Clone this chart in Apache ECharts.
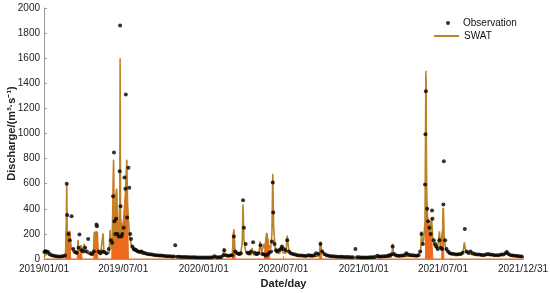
<!DOCTYPE html>
<html>
<head>
<meta charset="utf-8">
<script src="https://cdn.jsdelivr.net/npm/echarts@6/dist/echarts.min.js"></script>
<style>
  html, body { margin: 0; padding: 0; background: #fff; }
  #chart { width: 550px; height: 293px; }
</style>
</head>
<body>
<div id="chart"></div>
<script>
// SWAT simulated discharge, turning points of the daily curve [date, m3/s]
const swatPoints = [
  ["2019-01-01", 15], ["2019-01-04", 30], ["2019-01-07", 42], ["2019-01-11", 38], ["2019-01-16", 25], ["2019-01-25", 18],
  ["2019-02-10", 15], ["2019-02-19", 20], ["2019-02-21", 300], ["2019-02-22", 600], ["2019-02-23", 250], ["2019-02-25", 150],
  ["2019-02-27", 210], ["2019-03-01", 180], ["2019-03-04", 100], ["2019-03-08", 60], ["2019-03-12", 45], ["2019-03-17", 40],
  ["2019-03-19", 70], ["2019-03-20", 150], ["2019-03-22", 60], ["2019-03-26", 50], ["2019-03-27", 110], ["2019-03-29", 50],
  ["2019-04-02", 60], ["2019-04-03", 120], ["2019-04-05", 60], ["2019-04-10", 45], ["2019-04-16", 35], ["2019-04-22", 30],
  ["2019-04-24", 60], ["2019-04-26", 210], ["2019-04-30", 200], ["2019-05-03", 215], ["2019-05-05", 50], ["2019-05-10", 35],
  ["2019-05-14", 40], ["2019-05-16", 205], ["2019-05-18", 50], ["2019-05-24", 35], ["2019-05-30", 50], ["2019-06-01", 230],
  ["2019-06-03", 100], ["2019-06-06", 80], ["2019-06-08", 400], ["2019-06-09", 790], ["2019-06-10", 300], ["2019-06-12", 180],
  ["2019-06-15", 300], ["2019-06-16", 560], ["2019-06-18", 200], ["2019-06-20", 150], ["2019-06-23", 250], ["2019-06-24", 1600],
  ["2019-06-25", 350], ["2019-06-27", 180], ["2019-06-30", 170], ["2019-07-03", 200], ["2019-07-06", 350], ["2019-07-08", 600],
  ["2019-07-09", 790], ["2019-07-11", 450], ["2019-07-13", 300], ["2019-07-16", 180], ["2019-07-20", 100], ["2019-07-25", 70],
  ["2019-08-01", 55], ["2019-08-15", 40], ["2019-09-01", 30], ["2019-09-20", 25], ["2019-10-10", 20], ["2019-10-28", 22],
  ["2019-11-10", 16], ["2019-12-01", 13], ["2019-12-20", 11],
  ["2020-01-10", 10], ["2020-01-24", 12], ["2020-01-26", 18], ["2020-01-28", 12], ["2020-02-12", 12], ["2020-02-15", 40],
  ["2020-02-16", 88], ["2020-02-18", 35], ["2020-02-24", 20], ["2020-03-06", 22], ["2020-03-08", 120], ["2020-03-10", 234],
  ["2020-03-12", 80], ["2020-03-16", 40], ["2020-03-25", 30], ["2020-03-29", 120], ["2020-03-31", 434], ["2020-04-02", 150],
  ["2020-04-06", 60], ["2020-04-12", 35], ["2020-04-19", 35], ["2020-04-21", 88], ["2020-04-24", 35], ["2020-05-04", 30],
  ["2020-05-07", 60], ["2020-05-09", 141], ["2020-05-12", 50], ["2020-05-16", 60], ["2020-05-18", 120], ["2020-05-21", 90],
  ["2020-05-24", 208], ["2020-05-27", 120], ["2020-06-02", 80], ["2020-06-05", 200], ["2020-06-07", 680], ["2020-06-09", 250],
  ["2020-06-12", 100], ["2020-06-17", 50], ["2020-06-23", 45], ["2020-06-27", 100], ["2020-06-30", 50], ["2020-07-07", 45],
  ["2020-07-10", 186], ["2020-07-14", 60], ["2020-07-22", 35], ["2020-08-05", 25], ["2020-08-30", 20], ["2020-09-02", 30],
  ["2020-09-06", 20], ["2020-09-20", 20], ["2020-09-22", 60], ["2020-09-24", 141], ["2020-09-27", 60], ["2020-10-05", 30],
  ["2020-10-25", 18], ["2020-11-20", 14], ["2020-12-15", 12],
  ["2021-01-10", 11], ["2021-01-28", 12], ["2021-02-01", 18], ["2021-02-05", 12], ["2021-03-05", 15], ["2021-03-07", 60],
  ["2021-03-08", 122], ["2021-03-10", 40], ["2021-03-16", 20], ["2021-04-05", 20], ["2021-04-08", 32], ["2021-04-12", 20],
  ["2021-05-05", 22], ["2021-05-11", 60], ["2021-05-13", 220], ["2021-05-15", 120], ["2021-05-18", 150], ["2021-05-21", 300],
  ["2021-05-22", 900], ["2021-05-23", 1500], ["2021-05-25", 400], ["2021-05-28", 250], ["2021-06-01", 200], ["2021-06-05", 330],
  ["2021-06-08", 150], ["2021-06-12", 100], ["2021-06-18", 80], ["2021-06-21", 150], ["2021-06-23", 220], ["2021-06-25", 90],
  ["2021-06-29", 80], ["2021-07-01", 250], ["2021-07-02", 408], ["2021-07-04", 150], ["2021-07-08", 70], ["2021-07-15", 45],
  ["2021-08-01", 35], ["2021-08-14", 35], ["2021-08-17", 80], ["2021-08-19", 133], ["2021-08-22", 60], ["2021-08-28", 40],
  ["2021-09-15", 30], ["2021-09-25", 35], ["2021-10-15", 30], ["2021-11-05", 28], ["2021-11-20", 35], ["2021-11-24", 60],
  ["2021-11-28", 35], ["2021-12-10", 25], ["2021-12-31", 18]
];

// orange fill under SWAT during the flashy periods [date, m3/s]
const bandPoints = [
  ["2019-01-01", 0], ["2019-02-19", 0], ["2019-02-20", 220], ["2019-03-02", 220], ["2019-03-03", 0], ["2019-03-18", 0],
  ["2019-03-20", 150], ["2019-03-22", 0], ["2019-03-27", 110], ["2019-03-29", 0], ["2019-04-25", 0], ["2019-04-26", 215],
  ["2019-05-03", 215], ["2019-05-04", 0], ["2019-06-05", 0], ["2019-06-06", 300], ["2019-06-09", 790], ["2019-06-11", 200],
  ["2019-06-13", 500], ["2019-06-16", 560], ["2019-06-18", 300], ["2019-06-20", 250], ["2019-06-22", 400], ["2019-06-28", 250],
  ["2019-07-01", 300], ["2019-07-05", 500], ["2019-07-09", 790], ["2019-07-11", 400], ["2019-07-13", 0], ["2020-03-07", 0],
  ["2020-03-08", 200], ["2020-03-10", 234], ["2020-03-12", 150], ["2020-03-13", 0], ["2020-05-19", 0], ["2020-05-20", 120],
  ["2020-05-24", 208], ["2020-05-28", 150], ["2020-05-31", 0], ["2020-09-22", 0], ["2020-09-24", 120], ["2020-09-27", 0],
  ["2021-05-22", 0], ["2021-05-23", 1450], ["2021-05-25", 500], ["2021-05-29", 250], ["2021-06-03", 300], ["2021-06-08", 0],
  ["2021-06-28", 0], ["2021-07-01", 400], ["2021-07-03", 0], ["2021-12-31", 0]
];

// observed discharge [date, m3/s]
const obsPoints = [
  ["2019-01-02", 55], ["2019-01-04", 62], ["2019-01-07", 60], ["2019-01-10", 55], ["2019-01-14", 40], ["2019-01-19", 30],
  ["2019-01-24", 25], ["2019-01-29", 22], ["2019-02-03", 20], ["2019-02-08", 20], ["2019-02-13", 22], ["2019-02-18", 28],
  ["2019-02-22", 600], ["2019-02-23", 350], ["2019-02-26", 200], ["2019-03-01", 150], ["2019-03-05", 340], ["2019-03-09", 80],
  ["2019-03-13", 55], ["2019-03-17", 50], ["2019-03-21", 90], ["2019-03-23", 195], ["2019-03-28", 70], ["2019-04-01", 60],
  ["2019-04-05", 90], ["2019-04-09", 60], ["2019-04-12", 160], ["2019-04-17", 45], ["2019-04-21", 40], ["2019-04-25", 60],
  ["2019-05-01", 275], ["2019-05-02", 260], ["2019-05-06", 60], ["2019-05-10", 45], ["2019-05-14", 60], ["2019-05-19", 55],
  ["2019-05-24", 45], ["2019-05-29", 80], ["2019-06-03", 150], ["2019-06-06", 130], ["2019-06-08", 500], ["2019-06-10", 848],
  ["2019-06-11", 300], ["2019-06-13", 200], ["2019-06-15", 320], ["2019-06-18", 200], ["2019-06-21", 180], ["2019-06-23", 700],
  ["2019-06-24", 1860], ["2019-06-25", 420], ["2019-06-27", 180], ["2019-06-29", 200], ["2019-07-02", 250], ["2019-07-04", 650],
  ["2019-07-06", 560], ["2019-07-07", 1310], ["2019-07-10", 330], ["2019-07-13", 728], ["2019-07-15", 568], ["2019-07-17", 200],
  ["2019-07-19", 160], ["2019-07-22", 100], ["2019-07-25", 80], ["2019-07-28", 75], ["2019-07-31", 70], ["2019-08-04", 60],
  ["2019-08-08", 58], ["2019-08-12", 60], ["2019-08-16", 50], ["2019-08-21", 45], ["2019-08-26", 40], ["2019-08-31", 38],
  ["2019-09-05", 35], ["2019-09-10", 32], ["2019-09-15", 30], ["2019-09-20", 28], ["2019-09-25", 27], ["2019-09-30", 25],
  ["2019-10-05", 24], ["2019-10-10", 22], ["2019-10-15", 21], ["2019-10-20", 20], ["2019-10-25", 20], ["2019-10-28", 110],
  ["2019-11-02", 18], ["2019-11-07", 17], ["2019-11-12", 16], ["2019-11-17", 16], ["2019-11-22", 15], ["2019-11-27", 14],
  ["2019-12-02", 14], ["2019-12-07", 13], ["2019-12-12", 13], ["2019-12-17", 12], ["2019-12-22", 12], ["2019-12-27", 12],
  ["2020-01-01", 11], ["2020-01-06", 11], ["2020-01-11", 12], ["2020-01-16", 12], ["2020-01-21", 14], ["2020-01-26", 22],
  ["2020-01-31", 14], ["2020-02-05", 14], ["2020-02-10", 15], ["2020-02-15", 30], ["2020-02-17", 70], ["2020-02-21", 30],
  ["2020-02-26", 25], ["2020-03-02", 28], ["2020-03-06", 30], ["2020-03-10", 180], ["2020-03-13", 60], ["2020-03-18", 45],
  ["2020-03-22", 40], ["2020-03-26", 45], ["2020-03-31", 469], ["2020-04-02", 250], ["2020-04-06", 120], ["2020-04-10", 50],
  ["2020-04-14", 45], ["2020-04-18", 60], ["2020-04-23", 133], ["2020-04-27", 50], ["2020-05-01", 40], ["2020-05-05", 45],
  ["2020-05-10", 110], ["2020-05-14", 40], ["2020-05-18", 35], ["2020-05-22", 30], ["2020-05-26", 35], ["2020-05-30", 50],
  ["2020-06-03", 60], ["2020-06-05", 140], ["2020-06-07", 610], ["2020-06-08", 370], ["2020-06-11", 120], ["2020-06-14", 70],
  ["2020-06-17", 60], ["2020-06-21", 70], ["2020-06-25", 80], ["2020-06-28", 100], ["2020-07-02", 80], ["2020-07-06", 70],
  ["2020-07-10", 150], ["2020-07-14", 60], ["2020-07-18", 45], ["2020-07-23", 40], ["2020-07-28", 35], ["2020-08-02", 30],
  ["2020-08-07", 28], ["2020-08-12", 27], ["2020-08-17", 25], ["2020-08-22", 24], ["2020-08-27", 30], ["2020-09-01", 28],
  ["2020-09-05", 25], ["2020-09-10", 30], ["2020-09-14", 45], ["2020-09-19", 40], ["2020-09-24", 120], ["2020-09-28", 60],
  ["2020-10-03", 40], ["2020-10-08", 30], ["2020-10-13", 26], ["2020-10-18", 22], ["2020-10-23", 21], ["2020-10-28", 20],
  ["2020-11-02", 18], ["2020-11-07", 18], ["2020-11-12", 17], ["2020-11-17", 16], ["2020-11-22", 15], ["2020-11-27", 15],
  ["2020-12-02", 14], ["2020-12-07", 14], ["2020-12-13", 80], ["2020-12-17", 13], ["2020-12-22", 13], ["2020-12-27", 12],
  ["2021-01-01", 12], ["2021-01-06", 12], ["2021-01-11", 12], ["2021-01-16", 13], ["2021-01-21", 14], ["2021-01-26", 16],
  ["2021-02-01", 25], ["2021-02-05", 20], ["2021-02-10", 20], ["2021-02-15", 21], ["2021-02-20", 22], ["2021-02-25", 25],
  ["2021-03-01", 30], ["2021-03-05", 35], ["2021-03-08", 100], ["2021-03-11", 40], ["2021-03-15", 30], ["2021-03-20", 25],
  ["2021-03-25", 25], ["2021-03-30", 28], ["2021-04-04", 30], ["2021-04-08", 45], ["2021-04-12", 35], ["2021-04-17", 32],
  ["2021-04-22", 30], ["2021-04-27", 28], ["2021-05-02", 25], ["2021-05-06", 30], ["2021-05-10", 60], ["2021-05-13", 200],
  ["2021-05-16", 120], ["2021-05-21", 594], ["2021-05-22", 994], ["2021-05-23", 1336], ["2021-05-26", 400], ["2021-05-28", 300],
  ["2021-05-31", 250], ["2021-06-03", 200], ["2021-06-06", 386], ["2021-06-07", 320], ["2021-06-10", 150], ["2021-06-13", 120],
  ["2021-06-16", 100], ["2021-06-19", 80], ["2021-06-23", 150], ["2021-06-26", 90], ["2021-06-29", 80], ["2021-07-02", 434],
  ["2021-07-03", 778], ["2021-07-06", 150], ["2021-07-09", 80], ["2021-07-13", 60], ["2021-07-17", 45], ["2021-07-21", 42],
  ["2021-07-26", 40], ["2021-07-31", 35], ["2021-08-05", 38], ["2021-08-10", 40], ["2021-08-15", 50], ["2021-08-20", 240],
  ["2021-08-24", 60], ["2021-08-28", 50], ["2021-09-02", 60], ["2021-09-07", 45], ["2021-09-12", 40], ["2021-09-17", 35],
  ["2021-09-22", 35], ["2021-09-27", 32], ["2021-10-02", 30], ["2021-10-07", 35], ["2021-10-12", 40], ["2021-10-17", 35],
  ["2021-10-22", 33], ["2021-10-27", 30], ["2021-11-01", 30], ["2021-11-06", 30], ["2021-11-11", 35], ["2021-11-16", 35],
  ["2021-11-21", 45], ["2021-11-24", 55], ["2021-11-28", 40], ["2021-12-03", 30], ["2021-12-08", 28], ["2021-12-13", 25],
  ["2021-12-18", 23], ["2021-12-23", 22], ["2021-12-28", 20]
];

const xTickDates = ["2019/01/01", "2019/07/01", "2020/01/01", "2020/07/01", "2021/01/01", "2021/07/01", "2021/12/31"];
const yMin = 0, yMax = 2000, yStep = 200;

// dates -> local timestamps, so a plain value axis can place them
const toTime = s => new Date(s.replace(/-/g, "/")).getTime();
const toData = pts => pts.map(p => [toTime(p[0]), p[1]]);
const xTickTimes = xTickDates.map(toTime);

const pad = n => String(n).padStart(2, "0");
const fmtDate = v => {
  const d = new Date(v);
  return d.getFullYear() + "/" + pad(d.getMonth() + 1) + "/" + pad(d.getDate());
};

const chart = echarts.init(document.getElementById("chart"));
chart.setOption({
  animation: false,
  textStyle: { fontFamily: "Liberation Sans, Arial, sans-serif" },
  grid: { left: 44, right: 27, top: 8, bottom: 34, containLabel: false, outerBoundsMode: "none" },
  legend: [
    {
      data: [{ name: "Observation", icon: "circle" }],
      left: 441, top: 13,
      itemWidth: 4, itemHeight: 4,
      textStyle: { fontSize: 10, color: "#111", padding: [0, 0, 0, 8] }
    },
    {
      data: [{ name: "SWAT", icon: "rect" }],
      left: 429, top: 26,
      itemWidth: 25, itemHeight: 2,
      textStyle: { fontSize: 10, color: "#111" }
    }
  ],
  xAxis: {
    type: "value",
    min: xTickTimes[0],
    max: xTickTimes[xTickTimes.length - 1],
    name: "Date/day",
    nameLocation: "middle",
    nameGap: 19,
    nameTextStyle: { fontSize: 11, fontWeight: "bold", color: "#222" },
    axisLine: { lineStyle: { color: "#999", width: 1 } },
    axisTick: { show: true, inside: true, length: 3, customValues: xTickTimes, lineStyle: { color: "#999" } },
    axisLabel: {
      customValues: xTickTimes,
      fontSize: 10,
      color: "#222",
      margin: 5,
      hideOverlap: false,
      formatter: fmtDate
    },
    splitLine: { show: false }
  },
  yAxis: {
    type: "value",
    min: yMin, max: yMax, interval: yStep,
    name: "Discharge/(m³·s⁻¹)",
    nameLocation: "middle",
    nameGap: 27,
    nameMoveOverlap: false,
    nameTextStyle: { fontSize: 11, fontWeight: "bold", color: "#222" },
    axisLine: { show: true, lineStyle: { color: "#999", width: 1 } },
    axisTick: { show: true, inside: true, length: 3, lineStyle: { color: "#999" } },
    axisLabel: { fontSize: 10, color: "#222", margin: 4, formatter: v => String(v) },
    splitLine: { show: false }
  },
  series: [
    {
      name: "band",
      type: "line",
      data: toData(bandPoints),
      symbol: "none",
      lineStyle: { color: "#ec6a1e", width: 1 },
      areaStyle: { color: "#ec6a1e", opacity: 1 },
      z: 1,
      silent: true
    },
    {
      name: "SWAT",
      type: "line",
      data: toData(swatPoints),
      symbol: "none",
      lineStyle: { color: "#b98424", width: 1.6 },
      itemStyle: { color: "#b98424" },
      z: 2
    },
    {
      name: "Observation",
      type: "scatter",
      data: toData(obsPoints),
      symbol: "circle",
      symbolSize: 4,
      itemStyle: { color: "#000" },
      z: 3
    }
  ]
});
</script>
</body>
</html>
